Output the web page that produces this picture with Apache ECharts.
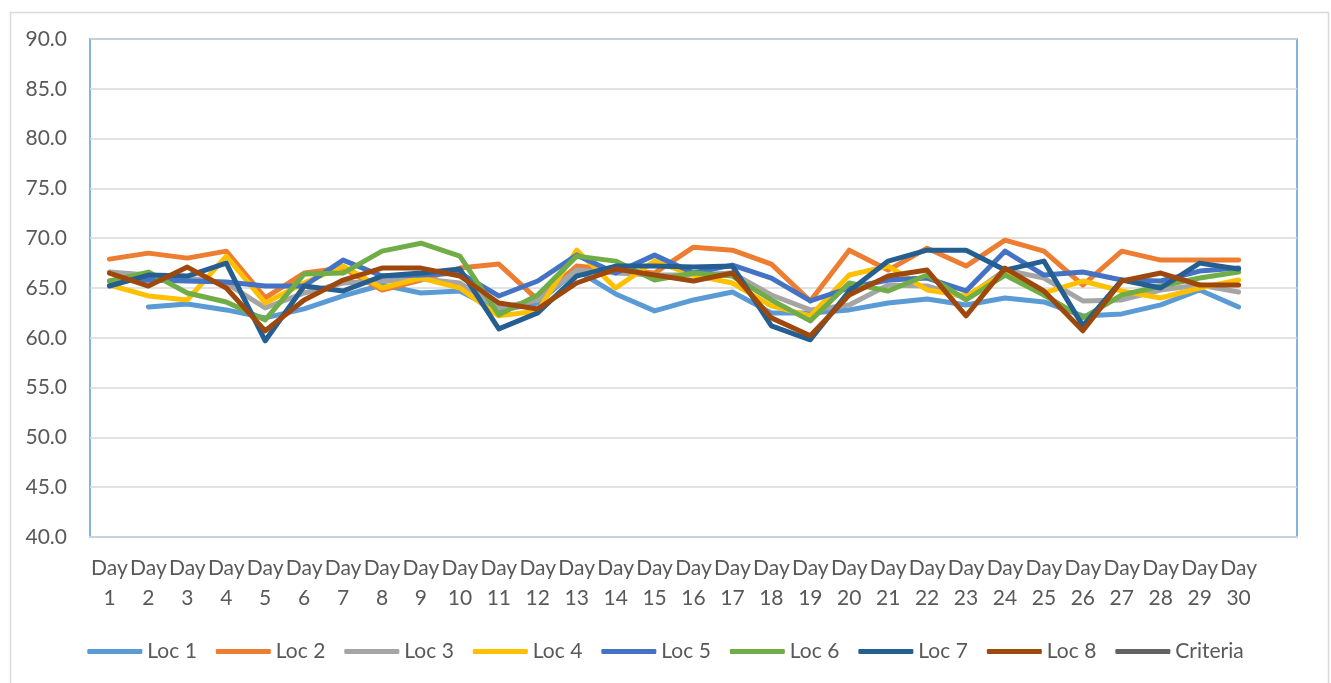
<!DOCTYPE html>
<html>
<head>
<meta charset="utf-8">
<script src="https://cdn.jsdelivr.net/npm/echarts@6/dist/echarts.min.js"></script>
<style>
html,body{margin:0;padding:0;background:#fff;}
#chart{width:1331px;height:683px;}
</style>
</head>
<body>
<div id="chart"></div>
<script>
const categories = ['Day\n1','Day\n2','Day\n3','Day\n4','Day\n5','Day\n6','Day\n7','Day\n8','Day\n9','Day\n10',
  'Day\n11','Day\n12','Day\n13','Day\n14','Day\n15','Day\n16','Day\n17','Day\n18','Day\n19','Day\n20',
  'Day\n21','Day\n22','Day\n23','Day\n24','Day\n25','Day\n26','Day\n27','Day\n28','Day\n29','Day\n30',''];

const loc1 = [null,63.1,63.4,62.8,62.0,62.9,64.2,65.3,64.5,64.7,62.7,63.5,66.8,64.4,62.7,63.8,64.6,62.5,62.5,62.8,63.5,63.9,63.3,64.0,63.6,62.2,62.4,63.3,64.8,63.1];
const loc2 = [67.9,68.5,68.0,68.7,64.0,66.5,67.0,64.8,65.8,67.0,67.4,63.8,67.2,66.8,66.5,69.1,68.8,67.4,63.7,68.8,66.8,69.0,67.2,69.8,68.7,65.3,68.7,67.8,67.8,67.8];
const loc3 = [66.6,66.3,66.0,65.5,63.0,64.5,65.5,65.7,65.9,65.5,63.0,63.8,66.8,66.5,66.3,66.3,66.5,64.3,62.8,63.3,65.3,65.2,64.0,66.8,66.0,63.7,63.8,64.8,65.3,64.6];
const loc4 = [65.3,64.2,63.8,68.2,63.5,65.5,67.2,65.0,66.0,65.0,62.2,62.7,68.8,65.0,67.7,66.3,65.5,63.2,62.2,66.3,67.2,64.8,64.2,66.5,64.5,65.7,64.7,64.0,65.0,65.8];
const loc5 = [65.7,65.8,65.7,65.6,65.2,65.2,67.8,66.2,66.3,66.5,64.2,65.7,68.3,66.5,68.3,66.5,67.3,66.0,63.7,65.0,65.8,66.0,64.7,68.7,66.3,66.6,65.8,65.7,66.7,67.0];
const loc6 = [65.7,66.6,64.5,63.6,61.8,66.4,66.5,68.7,69.5,68.2,62.3,64.3,68.2,67.7,65.8,66.5,66.2,63.8,61.7,65.5,64.7,66.3,63.8,66.3,64.3,62.0,64.3,65.2,66.0,66.6];
const loc7 = [65.2,66.3,66.2,67.5,59.7,65.2,64.7,66.2,66.5,66.9,60.9,62.5,66.2,67.2,67.2,67.1,67.2,61.2,59.8,64.7,67.7,68.8,68.8,66.8,67.7,61.2,65.8,65.0,67.5,66.9];
const loc8 = [66.5,65.2,67.1,65.0,60.7,63.8,65.8,67.0,67.0,66.2,63.5,62.9,65.5,66.9,66.3,65.7,66.5,62.0,60.2,64.3,66.2,66.8,62.2,67.0,64.7,60.7,65.7,66.5,65.3,65.3];
const criteria = [];

const seriesNames = ['Loc 1','Loc 2','Loc 3','Loc 4','Loc 5','Loc 6','Loc 7','Loc 8','Criteria'];
const seriesData = [loc1,loc2,loc3,loc4,loc5,loc6,loc7,loc8,criteria];
const colors = ['#5B9BD5','#ED7D31','#A5A5A5','#FFC000','#4472C4','#70AD47','#255E91','#9E480E','#636363'];

const FONT = 'Lato, "Open Sans", sans-serif';
const chart = echarts.init(document.getElementById('chart'), null, {renderer:'canvas'});
chart.setOption({
  animation: false,
  color: colors,
  graphic: [{
    type: 'rect', left: 8, top: 10, silent: true,
    shape: {width: 1318, height: 690},
    style: {fill: 'none', stroke: '#D9D9D9', lineWidth: 1.5}
  }],
  grid: {left: 90, right: 34, top: 39, bottom: 146, show: true, borderColor: '#5B9BD5', borderWidth: 1.5, backgroundColor: 'transparent'},
  legend: {
    bottom: 16, left: 'center',
    icon: 'roundRect', itemWidth: 55, itemHeight: 5, itemGap: 19,
    textStyle: {fontFamily: FONT, fontSize: 21, color: '#595959'},
    data: seriesNames
  },
  xAxis: {
    type: 'category', data: categories, boundaryGap: true,
    axisLine: {show: true, lineStyle: {color: '#C5D3E4', width: 2}},
    axisTick: {show: false},
    axisLabel: {interval: 0, margin: 16, fontFamily: FONT, fontSize: 21, color: '#595959', lineHeight: 30}
  },
  yAxis: {
    type: 'value', min: 40, max: 90, interval: 5,
    axisLine: {show: false}, axisTick: {show: false},
    axisLabel: {margin: 23, fontFamily: FONT, fontSize: 21, color: '#595959', formatter: v => v.toFixed(1)},
    splitLine: {lineStyle: {color: '#D9D9D9', width: 1.5}}
  },
  series: seriesNames.map((n, i) => ({
    name: n, type: 'line', data: seriesData[i], showSymbol: false, symbol: 'none',
    connectNulls: false,
    lineStyle: {width: 5, color: colors[i], join: 'round', cap: 'round'},
    itemStyle: {color: colors[i]}
  }))
});
</script>
</body>
</html>
